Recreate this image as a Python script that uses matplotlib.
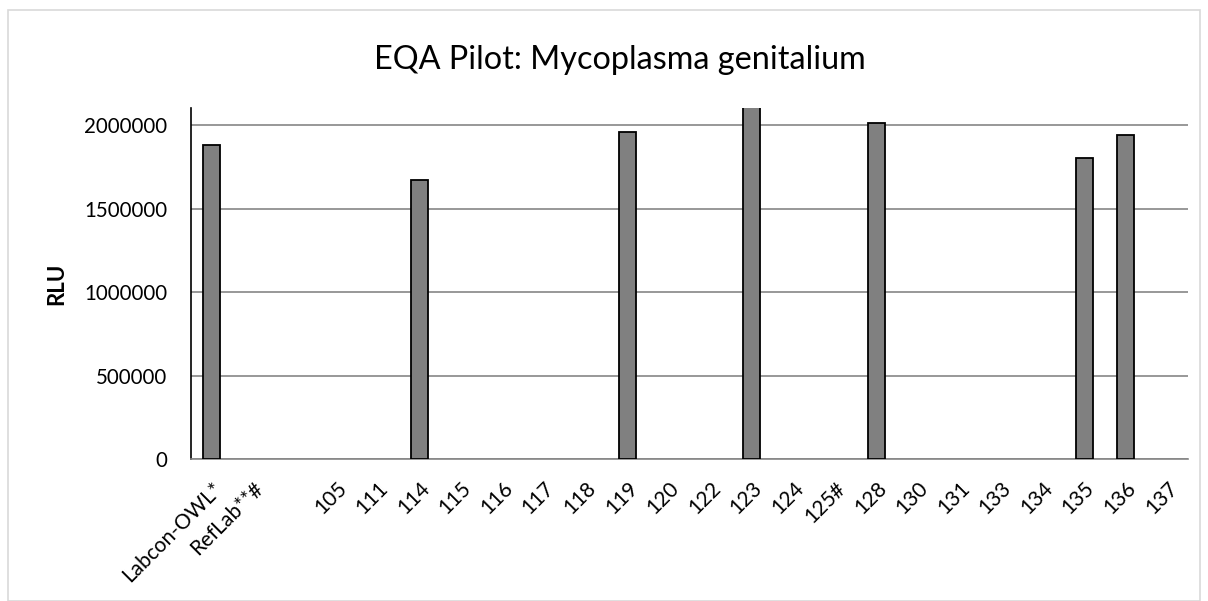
import numpy as np
import matplotlib.pyplot as plt

plt.rcParams['font.family'] = ['Lato', 'DejaVu Sans']

# categories and RLU values (None = no bar)
labs = ['Labcon-OWL*', 'RefLab**#', '', '105', '111', '114', '115', '116', '117',
        '118', '119', '120', '122', '123', '124', '125#', '128', '130', '131',
        '133', '134', '135', '136', '137']
rlu = [1882000, None, None, None, None, 1672000, None, None, None,
       None, 1962000, None, None, 2400000, None, None, 2016000, None, None,
       None, None, 1806000, 1942000, None]
yticks = [0, 500000, 1000000, 1500000, 2000000]

fig = plt.figure(figsize=(12.08, 6.01), dpi=100)
ax = fig.add_axes([191 / 1208, 1 - 459 / 601, (1188 - 191) / 1208, (459 - 108) / 601])

x = np.arange(len(labs))
vals = np.array([np.nan if v is None else v for v in rlu], dtype=float)
ax.bar(x, vals, width=0.41, color='#808080', edgecolor='black', linewidth=1.3, zorder=3)

ax.set_xlim(-0.5, len(labs) - 0.5)
ax.set_ylim(0, 2103000)
ax.set_yticks(yticks)
ax.set_yticklabels([str(v) for v in yticks], fontsize=14.8)
ax.yaxis.grid(True, color='#868686', linewidth=1.2, zorder=0)
ax.set_xticks(x)
ax.set_xticklabels(labs, rotation=45, ha='right', rotation_mode='anchor', fontsize=15)
ax.tick_params(axis='y', length=0, pad=17)
ax.tick_params(axis='x', length=0, pad=14)

for s in ['top', 'right']:
    ax.spines[s].set_visible(False)
ax.spines['left'].set_color('black')
ax.spines['left'].set_linewidth(1.2)
ax.spines['bottom'].set_color('#868686')
ax.spines['bottom'].set_linewidth(1.2)

ax.set_ylabel('RLU', fontsize=16, fontweight='bold', labelpad=12)
fig.text(620 / 1208, 1 - 60 / 601, 'EQA Pilot: Mycoplasma genitalium',
         fontsize=23.3, ha='center', va='center')

# light chart border
fig.patches.append(plt.Rectangle((8 / 1208, 0.0), 1192 / 1208, 1 - 10 / 601,
                                 transform=fig.transFigure, fill=False,
                                 edgecolor='#d9d9d9', linewidth=1.2))

fig.savefig('out.png', dpi=100)
